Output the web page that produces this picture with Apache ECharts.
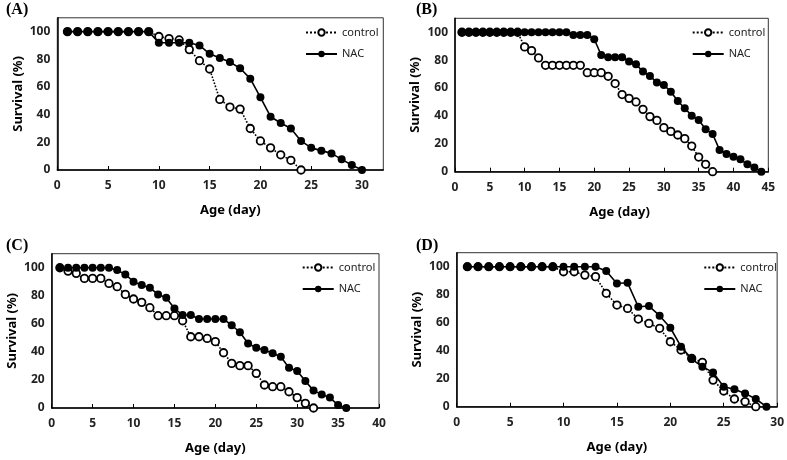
<!DOCTYPE html>
<html><head><meta charset="utf-8">
<script src="https://cdn.jsdelivr.net/npm/echarts@6/dist/echarts.min.js"></script>
<style>html,body{margin:0;padding:0;background:#fff}#c{width:787px;height:460px}</style>
</head><body><div id="c"></div>
<script>
// Survival (%) by age (day); index i -> day i+1
const aControl = [100,100,100,100,100,100,100,100,100,96.5,95,94,87,79,73,51,45.5,44,30,21,16,11,7,0];
const aNAC     = [100,100,100,100,100,100,100,100,100,92,92,92,92,90,84,81,78,73.5,66,52.5,38.5,34,30,21,16,14,12,7.7,3.6,0];
const bControl = [100,100,100,100,100,100,100,100,100,89.5,86.8,81.6,76.3,76.3,76.3,76.3,76.3,76.3,71,71,71,68.4,63.2,55.3,52.6,50,44.7,39.5,36.8,31.6,28.9,26.3,23.7,18.4,10.5,5.3,0];
const bNAC     = [100,100,100,100,100,100,100,100,100,100,100,100,100,100,100,100,98,98,98,95,83.7,82,82,82,79,77,71.8,68.7,63.9,62.2,57.4,50.7,45.5,40.2,37.1,30.4,27,15.6,12.7,10.8,8.9,5.3,3.1,0];
const cControl = [100,97.6,96,92.4,92.4,92.4,88.8,86.5,81,77.7,75.3,71.5,65.8,65.8,65.8,62.2,50.8,50.8,49.6,47.3,39.4,31.8,30.2,30.2,24.7,16.4,15.2,15.2,11.6,7.4,3.3,0];
const cNAC     = [100,100,100,100,100,100,100,98.3,95.2,90,87.6,85.7,81,78.6,71,66.3,66.3,63.4,63.4,63.4,63.4,59,54,46,43,41.3,39,36.6,28.7,26.4,19.2,12.4,9.7,7.4,2.1,0];
const dControl = [100,100,100,100,100,100,100,100,100,96.4,96.4,94,92.9,81,72.6,70.2,62.6,59.5,56,46.4,40.5,34.5,31.7,19,11.2,5.5,3.6,0];
const dNAC     = [100,100,100,100,100,100,100,100,100,100,100,100,100,96.9,88,88.5,71.4,71.9,65,56.4,42.9,34,28.6,24.5,14.3,12.4,9.5,5.5,0];
const panelLabels = ['(A)','(B)','(C)','(D)'];
const xMax = [32.1, 45, 40, 30];
const xTitle = 'Age (day)';
const yTitle = 'Survival (%)';

const toPairs = arr => arr.map((v,i)=>[i+1,v]);
const FONT = "'Noto Sans', 'DejaVu Sans', sans-serif";
const grids = [
  {left:57.3, top:17.8, width:326, height:152.2},
  {left:455, top:18.3, width:313.3, height:153.4},
  {left:51.7, top:253.7, width:327.3, height:154.3},
  {left:456.7, top:252.7, width:321.6, height:154}
];
const titleShift = [20, 16, 0, 0];
const xAxes = grids.map((g,i)=>({
  type:'value', gridIndex:i, min:0, max:xMax[i], interval:5,
  axisLine:{show:true,onZero:false,lineStyle:{color:'#000',width:1.5}},
  axisTick:{show:true,inside:true,length:4,lineStyle:{color:'#000',width:1}},
  axisLabel:{showMaxLabel:xMax[i]%5===0,fontFamily:FONT,fontWeight:'bold',fontSize:12,color:'#222',margin:10},
  splitLine:{show:false},
  name:xTitle, nameLocation:'middle', nameGap:34,
  nameTextStyle:{fontFamily:FONT,fontWeight:'bold',fontSize:13,color:'#000',padding:[0,0,0,titleShift[i]]}
}));
const yAxes = grids.map((g,i)=>({
  type:'value', gridIndex:i, min:0, max:110, interval:20,
  axisLine:{show:true,lineStyle:{color:'#000',width:1.5}},
  axisTick:{show:false},
  axisLabel:{showMaxLabel:false,fontFamily:FONT,fontWeight:'bold',fontSize:12,color:'#222',margin:7},
  splitLine:{show:false},
  name:yTitle, nameLocation:'middle', nameGap:33,
  nameTextStyle:{fontFamily:FONT,fontWeight:'bold',fontSize:13,color:'#000'}
}));
const dataSets = [[aControl,aNAC],[bControl,bNAC],[cControl,cNAC],[dControl,dNAC]];
const series = [];
dataSets.forEach((pair,i)=>{
  series.push({
    name:'control', type:'line', xAxisIndex:i, yAxisIndex:i, data:toPairs(pair[0]), z:3,
    symbol:'circle', symbolSize:7.5,
    itemStyle:{color:'#fff',borderColor:'#000',borderWidth:1.8},
    lineStyle:{color:'#000',width:1.6,type:'dotted'}
  });
  series.push({
    name:'NAC', type:'line', xAxisIndex:i, yAxisIndex:i, data:toPairs(pair[1]), z:4,
    symbol:'circle', symbolSize:8,
    itemStyle:{color:'#000',borderColor:'#000',borderWidth:0},
    lineStyle:{color:'#000',width:1.6,type:'solid'}
  });
});
const legendPos = [
  {left:305, top:27},
  {left:691.7, top:27},
  {left:301.7, top:262},
  {left:703.3, top:262}
];
const legends = legendPos.map(p=>({
  data:['control','NAC'], orient:'vertical', left:p.left, top:p.top,
  itemWidth:31, itemHeight:8, itemGap:10.5, padding:0,
  textStyle:{fontFamily:FONT,fontSize:11,color:'#222'}, selectedMode:false
}));
const labelPos = [[6,2],[416,2],[6,238],[416,238]];
const chart = echarts.init(document.getElementById('c'));
chart.setOption({
  animation:false,
  grid: grids.map(g=>Object.assign({show:true,borderColor:'#333',borderWidth:1,backgroundColor:'transparent'},g)),
  xAxis:xAxes, yAxis:yAxes, series, legend:legends,
  graphic: panelLabels.map((t,i)=>({type:'text',left:labelPos[i][0],top:labelPos[i][1],
    style:{text:t,font:"bold 16px 'Liberation Serif', serif",fill:'#000'}}))
});
</script></body></html>
